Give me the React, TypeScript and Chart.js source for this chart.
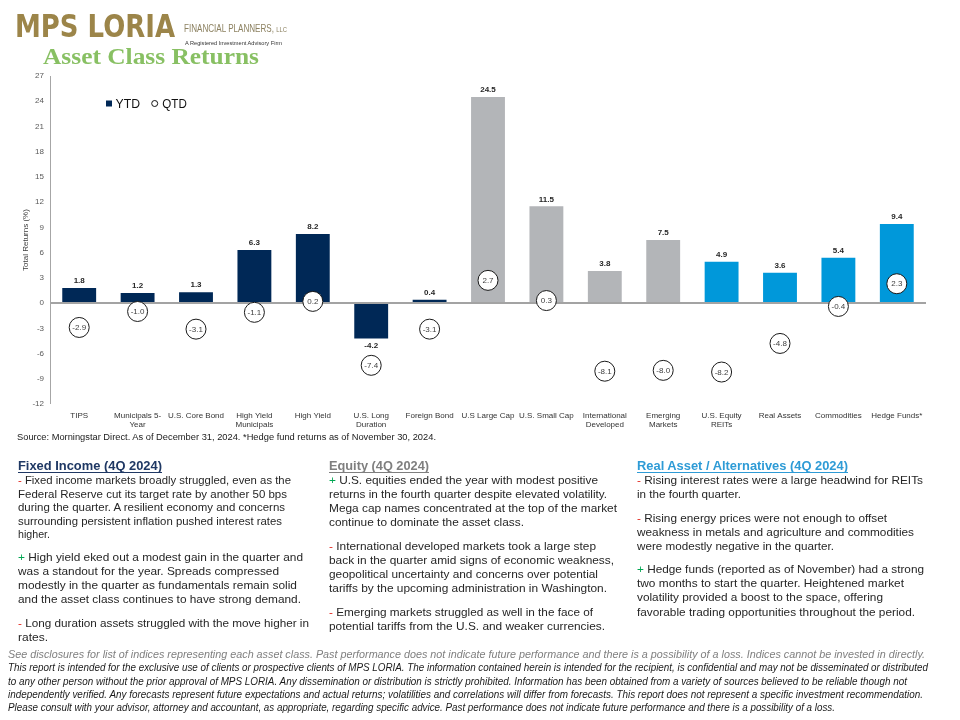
import React, { useEffect, useRef } from "react";
import { Chart, registerables } from "chart.js";

Chart.register(...registerables);

// ---------- data ----------
const categories: string[][] = [
  ["TIPS"],
  ["Municipals 5-", "Year"],
  ["U.S. Core Bond"],
  ["High Yield", "Municipals"],
  ["High Yield"],
  ["U.S. Long", "Duration"],
  ["Foreign Bond"],
  ["U.S Large Cap"],
  ["U.S. Small Cap"],
  ["International", "Developed"],
  ["Emerging", "Markets"],
  ["U.S. Equity", "REITs"],
  ["Real Assets"],
  ["Commodities"],
  ["Hedge Funds*"],
];
const ytdValues = [1.8, 1.2, 1.3, 6.3, 8.2, -4.2, 0.4, 24.5, 11.5, 3.8, 7.5, 4.9, 3.6, 5.4, 9.4];
const qtdValues = [-2.9, -1.0, -3.1, -1.1, 0.2, -7.4, -3.1, 2.7, 0.3, -8.1, -8.0, -8.2, -4.8, -0.4, 2.3];
const assetGroups = [
  "fixed", "fixed", "fixed", "fixed", "fixed", "fixed", "fixed",
  "equity", "equity", "equity", "equity",
  "real", "real", "real", "real",
];
const yMin = -12;
const yMax = 27;
const yStep = 3;

const groupColors: Record<string, string> = {
  fixed: "#002856",
  equity: "#B3B5B8",
  real: "#0098DA",
};

const FONT = '"Liberation Sans", Arial, sans-serif';

const valueLabelPlugin = {
  id: "valueLabels",
  afterDatasetsDraw(chart: any) {
    const ctx = chart.ctx;
    ctx.save();
    ctx.textAlign = "center";
    ctx.textBaseline = "middle";
    const barMeta = chart.getDatasetMeta(0);
    ctx.font = `bold 8px ${FONT}`;
    ctx.fillStyle = "#262626";
    barMeta.data.forEach((el: any, i: number) => {
      const v = ytdValues[i];
      const y = v >= 0 ? el.y - 7 : el.y + 7;
      ctx.fillText(v.toFixed(1), el.x, y);
    });
    const ptMeta = chart.getDatasetMeta(1);
    ctx.font = `8px ${FONT}`;
    ctx.fillStyle = "#404040";
    ptMeta.data.forEach((el: any, i: number) => {
      ctx.fillText(qtdValues[i].toFixed(1), el.x, el.y + 0.5);
    });
    ctx.restore();
  },
};

function ReturnsChart() {
  const ref = useRef<HTMLCanvasElement | null>(null);
  useEffect(() => {
    if (!ref.current) return;
    const chart = new Chart(ref.current, {
      type: "bar",
      data: {
        labels: categories,
        datasets: [
          {
            type: "bar",
            label: "YTD",
            data: ytdValues,
            backgroundColor: assetGroups.map((g) => groupColors[g]),
            borderWidth: 0,
            barPercentage: 0.58,
            categoryPercentage: 1,
            order: 2,
          } as any,
          {
            type: "line",
            label: "QTD",
            data: qtdValues,
            showLine: false,
            pointRadius: 10,
            pointHoverRadius: 10,
            pointBackgroundColor: "#ffffff",
            pointBorderColor: "#1a1a1a",
            pointBorderWidth: 1,
            order: 1,
          } as any,
        ],
      },
      options: {
        responsive: false,
        animation: false,
        devicePixelRatio: 1,
        layout: { padding: { top: 9, right: 34, left: 0, bottom: 0 } },
        plugins: {
          legend: { display: false },
          tooltip: { enabled: false },
        },
        scales: {
          x: {
            grid: { display: false, drawTicks: false },
            border: { display: false },
            ticks: {
              autoSkip: false,
              maxRotation: 0,
              minRotation: 0,
              padding: 7,
              color: "#333333",
              font: { family: FONT, size: 8, lineHeight: 1.15 },
            },
            afterFit: (scale: any) => {
              scale.height = 31;
            },
          },
          y: {
            min: yMin,
            max: yMax,
            ticks: {
              stepSize: yStep,
              padding: 6,
              color: "#595959",
              font: { family: FONT, size: 8 },
            },
            grid: {
              drawTicks: false,
              color: (c: any) => (c.tick && c.tick.value === 0 ? "#A3A3A3" : "rgba(0,0,0,0)"),
              lineWidth: (c: any) => (c.tick && c.tick.value === 0 ? 2 : 0),
            },
            border: { display: true, color: "#A6A6A6", width: 1 },
            title: {
              display: true,
              text: "Total Returns (%)",
              color: "#404040",
              font: { family: FONT, size: 8 },
              padding: { top: 21, bottom: 0 },
            },
            afterFit: (scale: any) => {
              scale.width = 50;
            },
          },
        },
      } as any,
      plugins: [valueLabelPlugin],
    });
    return () => chart.destroy();
  }, []);
  return <canvas ref={ref} width={960} height={370} style={{ display: "block" }} />;
}

type Line = { y: number; w: number; t: string; pre?: string; s?: number };

const col1: Line[] = [
  { y: 480, w: 273, s: 10.5, pre: "-", t: " Fixed income markets broadly struggled, even as the" },
  { y: 494, w: 269, s: 10.5, t: "Federal Reserve cut its target rate by another 50 bps" },
  { y: 507, w: 267, s: 10.5, t: "during the quarter. A resilient economy and concerns" },
  { y: 521, w: 264, s: 10.5, t: "surrounding persistent inflation pushed interest rates" },
  { y: 534, w: 32, s: 10.5, t: "higher." },
  { y: 557, w: 285, pre: "+", t: " High yield eked out a modest gain in the quarter and" },
  { y: 571, w: 261, t: "was a standout for the year. Spreads compressed" },
  { y: 585, w: 279, t: "modestly in the quarter as fundamentals remain solid" },
  { y: 599, w: 283, t: "and the asset class continues to have strong demand." },
  { y: 623, w: 291, pre: "-", t: " Long duration assets struggled with the move higher in" },
  { y: 637, w: 30, t: "rates." },
];
const col2: Line[] = [
  { y: 480, w: 269, pre: "+", t: " U.S. equities ended the year with modest positive" },
  { y: 494, w: 278, t: "returns in the fourth quarter despite elevated volatility." },
  { y: 508, w: 288, t: "Mega cap names concentrated at the top of the market" },
  { y: 522, w: 195, t: "continue to dominate the asset class." },
  { y: 546, w: 267, pre: "-", t: " International developed markets took a large step" },
  { y: 560, w: 285, t: "back in the quarter amid signs of economic weakness," },
  { y: 574, w: 269, t: "geopolitical uncertainty and concerns over potential" },
  { y: 588, w: 278, t: "tariffs by the upcoming administration in Washington." },
  { y: 612, w: 264, pre: "-", t: " Emerging markets struggled as well in the face of" },
  { y: 626, w: 276, t: "potential tariffs from the U.S. and weaker currencies." },
];
const col3: Line[] = [
  { y: 480, w: 286, pre: "-", t: " Rising interest rates were a large headwind for REITs" },
  { y: 494, w: 104, t: "in the fourth quarter." },
  { y: 518, w: 250, pre: "-", t: " Rising energy prices were not enough to offset" },
  { y: 532, w: 277, t: "weakness in metals and agriculture and commodities" },
  { y: 546, w: 197, t: "were modestly negative in the quarter." },
  { y: 569, w: 287, pre: "+", t: " Hedge funds (reported as of November) had a strong" },
  { y: 583, w: 267, t: "two months to start the quarter. Heightened market" },
  { y: 597, w: 246, t: "volatility provided a boost to the space, offering" },
  { y: 612, w: 278, t: "favorable trading opportunities throughout the period." },
];

function Column({ x, lines }: { x: number; lines: Line[] }) {
  return (
    <g>
      {lines.map((l, i) => (
        <text
          key={i}
          x={x}
          y={l.y + 4}
          textLength={l.w}
          lengthAdjust="spacingAndGlyphs"
          fontSize={l.s || 11.5}
          fontFamily={FONT}
          fill="#262626"
        >
          {l.pre ? <tspan fill={l.pre === "+" ? "#00A651" : "#E2231A"}>{l.pre}</tspan> : null}
          {l.t}
        </text>
      ))}
    </g>
  );
}

function Header({ x, w, text, color }: { x: number; w: number; text: string; color: string }) {
  return (
    <g>
      <text x={x} y={469.5} textLength={w} lengthAdjust="spacingAndGlyphs" fontSize={12} fontWeight="bold" fontFamily={FONT} fill={color}>
        {text}
      </text>
      <line x1={x} y1={472.5} x2={x + w} y2={472.5} stroke={color} strokeWidth={1} />
    </g>
  );
}

const footerLines: { y: number; w: number; t: string }[] = [
  { y: 671, w: 920, t: "This report is intended for the exclusive use of clients or prospective clients of MPS LORIA. The information contained herein is intended for the recipient, is confidential and may not be disseminated or distributed" },
  { y: 684.5, w: 899, t: "to any other person without the prior approval of MPS LORIA. Any dissemination or distribution is strictly prohibited. Information has been obtained from a variety of sources believed to be reliable though not" },
  { y: 697.5, w: 915, t: "independently verified. Any forecasts represent future expectations and actual returns; volatilities and correlations will differ from forecasts. This report does not represent a specific investment recommendation." },
  { y: 710.5, w: 827, t: "Please consult with your advisor, attorney and accountant, as appropriate, regarding specific advice. Past performance does not indicate future performance and there is a possibility of a loss." },
];

export default function App() {
  return (
    <div style={{ position: "absolute", left: 0, top: 0, width: 960, height: 720, background: "#ffffff", overflow: "hidden" }}>
      <div style={{ position: "absolute", left: 0, top: 65 }}>
        <ReturnsChart />
      </div>
      <svg width={960} height={720} style={{ position: "absolute", left: 0, top: 0, pointerEvents: "none" }}>
        <defs>
          <linearGradient id="rule" x1="0" x2="1" y1="0" y2="0">
            <stop offset="0" stopColor="#2C7A57" />
            <stop offset="0.65" stopColor="#3C8462" />
            <stop offset="1" stopColor="#E4E8E6" />
          </linearGradient>
        </defs>
        {/* logo */}
        <line x1={15} y1={34.5} x2={397} y2={34.5} stroke="url(#rule)" strokeWidth={1.5} />
        <text x={15} y={36.5} textLength={160} lengthAdjust="spacingAndGlyphs" fontSize={32} fontWeight="bold" fontFamily='"DejaVu Sans", sans-serif' fill="#9C8549">
          MPS LORIA
        </text>
        <text x={184} y={32} textLength={103} lengthAdjust="spacingAndGlyphs" fontSize={11} fontFamily='"Liberation Sans Narrow", "Liberation Sans", sans-serif' fill="#8C8160">
          FINANCIAL PLANNERS, <tspan fontSize={8}>LLC</tspan>
        </text>
        <text x={185} y={44.5} textLength={97} lengthAdjust="spacingAndGlyphs" fontSize={6} fontFamily={FONT} fill="#333333">
          A Registered Investment Advisory Firm
        </text>
        <text x={43} y={63.5} textLength={216} lengthAdjust="spacingAndGlyphs" fontSize={24} fontWeight="bold" fontFamily='"Liberation Serif", "DejaVu Serif", serif' fill="#88C063">
          Asset Class Returns
        </text>

        {/* legend */}
        <rect x={106} y={100.5} width={6} height={6} fill="#002856" />
        <text x={115.5} y={108} textLength={24.5} lengthAdjust="spacingAndGlyphs" fontSize={12.5} fontFamily={FONT} fill="#111111">
          YTD
        </text>
        <circle cx={154.7} cy={103.5} r={3} fill="#ffffff" stroke="#111111" strokeWidth={1} />
        <text x={162.3} y={108} textLength={24.5} lengthAdjust="spacingAndGlyphs" fontSize={12.5} fontFamily={FONT} fill="#111111">
          QTD
        </text>

        {/* source */}
        <text x={17} y={440} textLength={419} lengthAdjust="spacingAndGlyphs" fontSize={8.5} fontFamily={FONT} fill="#1a1a1a">
          Source: Morningstar Direct. As of December 31, 2024. *Hedge fund returns as of November 30, 2024.
        </text>

        {/* commentary */}
        <Header x={18} w={144} text="Fixed Income (4Q 2024)" color="#1F3864" />
        <Header x={329} w={100} text="Equity (4Q 2024)" color="#7F7F7F" />
        <Header x={637} w={211} text="Real Asset / Alternatives (4Q 2024)" color="#2E9BD6" />
        <Column x={18} lines={col1} />
        <Column x={329} lines={col2} />
        <Column x={637} lines={col3} />

        {/* footer */}
        <text x={8} y={657.5} textLength={917} lengthAdjust="spacingAndGlyphs" fontSize={10.5} fontStyle="italic" fontFamily={FONT} fill="#7F7F7F">
          See disclosures for list of indices representing each asset class. Past performance does not indicate future performance and there is a possibility of a loss. Indices cannot be invested in directly.
        </text>
        {footerLines.map((l, i) => (
          <text key={i} x={8} y={l.y} textLength={l.w} lengthAdjust="spacingAndGlyphs" fontSize={10} fontStyle="italic" fontFamily={FONT} fill="#1a1a1a">
            {l.t}
          </text>
        ))}
      </svg>
    </div>
  );
}
